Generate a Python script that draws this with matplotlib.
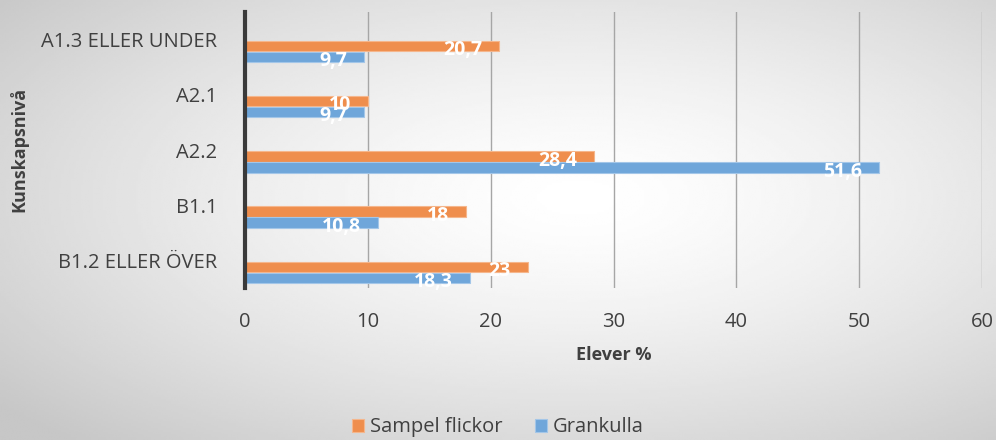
import numpy as np
import matplotlib
matplotlib.use('Agg')
import matplotlib.pyplot as plt

categories = ['A1.3 ELLER UNDER', 'A2.1', 'A2.2', 'B1.1', 'B1.2 ELLER ÖVER']
sampel_flickor = [20.7, 10, 28.4, 18, 23]
grankulla = [9.7, 9.7, 51.6, 10.8, 18.3]
series_names = ['Sampel flickor', 'Grankulla']
xticks = [0, 10, 20, 30, 40, 50, 60]

plt.rcParams['font.family'] = ['Open Sans', 'DejaVu Sans']

orange = '#EF8E4D'
blue = '#6FA6DA'
txt = '#404040'

fig = plt.figure(figsize=(9.96, 4.4), dpi=100)

# radial gradient background
bg = fig.add_axes([0, 0, 1, 1], zorder=-10)
gx, gy = np.meshgrid(np.linspace(0, 1, 400), np.linspace(0, 1, 200))
r = np.sqrt(((gx - 0.58) / 0.75) ** 2 + ((gy - 0.55) / 0.75) ** 2)
shade = 1.0 - 0.22 * np.clip(r, 0, 1) ** 1.4
bg.imshow(shade, cmap='gray', vmin=0, vmax=1, extent=[0, 1, 0, 1],
          aspect='auto', origin='lower', interpolation='bilinear')
bg.axis('off')

ax = fig.add_axes([0.246, 0.345, 0.740, 0.628])
ax.patch.set_alpha(0)

y = np.arange(len(categories))
h = 0.19
y_or = y + 0.116
y_bl = y + 0.315

ax.barh(y_or, sampel_flickor, height=h, color=orange, edgecolor='#F5B68C',
        lw=0.8, label=series_names[0], zorder=3)
ax.barh(y_bl, grankulla, height=h, color=blue, edgecolor='#A3C6E8',
        lw=0.8, label=series_names[1], zorder=3)

def fmt(v):
    s = ('%g' % v)
    return s.replace('.', ',')

for yy, vals in ((y_or, sampel_flickor), (y_bl, grankulla)):
    for yi, v in zip(yy, vals):
        ax.annotate(fmt(v), xy=(v, yi), xytext=(-12, -3),
                    textcoords='offset points', ha='right', va='center',
                    color='white', fontsize=14, fontweight='bold', zorder=4)

ax.set_ylim(len(categories) - 0.5, -0.5)
ax.set_yticks(y)
ax.set_yticklabels(categories, fontsize=14.5, color=txt)
ax.set_xlim(0, 60)
ax.set_xticks(xticks)
ax.set_xticklabels([str(t) for t in xticks], fontsize=14.5, color=txt)
ax.tick_params(length=0)
ax.tick_params(axis='x', pad=17)
ax.tick_params(axis='y', pad=20)

ax.grid(axis='x', color='#A6A6A6', lw=1, zorder=0)
for s in ['top', 'right', 'bottom']:
    ax.spines[s].set_visible(False)
ax.spines['left'].set_color('#3a3a3a')
ax.spines['left'].set_linewidth(3)
ax.spines['left'].set_zorder(5)

ax.set_xlabel('Elever %', fontsize=13, fontweight='bold', color=txt, labelpad=10)
fig.text(0.019, 0.66, 'Kunskapsnivå', rotation=90, ha='center', va='center',
         fontsize=13, fontweight='bold', color=txt)

fig.legend(loc='lower center', bbox_to_anchor=(0.5, -0.035), ncol=2, frameon=False,
           fontsize=14.5, handlelength=0.6, handleheight=0.6, columnspacing=1.6,
           handletextpad=0.3, labelcolor=txt)

fig.savefig('out.png', dpi=100)
